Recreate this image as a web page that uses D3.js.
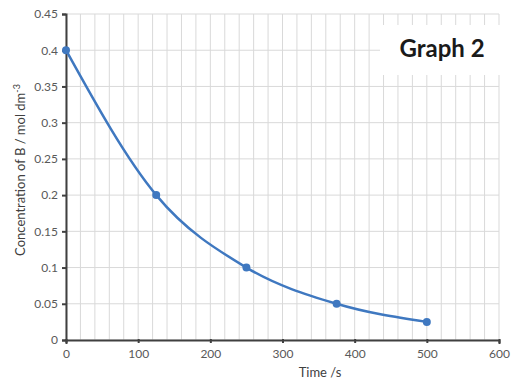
<!DOCTYPE html>
<html>
<head>
<meta charset="utf-8">
<script src="https://cdn.jsdelivr.net/npm/d3@7"></script>
<style>
  body { margin: 0; background: #fff; }
  svg { font-family: Lato, "Open Sans", sans-serif; }
</style>
</head>
<body>
<div id="chart"></div>
<script>
var times = [0, 125, 250, 375, 500];
var conc = [0.4, 0.2, 0.1, 0.05, 0.025];
var xTicks = [0, 100, 200, 300, 400, 500, 600];
var yTicks = [0, 0.05, 0.1, 0.15, 0.2, 0.25, 0.3, 0.35, 0.4, 0.45];
var xMinor = d3.range(0, 601, 20);

var margin = {top: 14, right: 23, bottom: 43, left: 66};
var width = 522 - margin.left - margin.right;
var height = 383 - margin.top - margin.bottom;

var svg = d3.select("#chart").append("svg")
    .attr("width", 522)
    .attr("height", 383);

var g = svg.append("g")
    .attr("transform", "translate(" + margin.left + "," + margin.top + ")");

var x = d3.scaleLinear().domain([0, 600]).range([0, width]);
var y = d3.scaleLinear().domain([0, 0.45]).range([height, 0]);

// grid
g.append("g").selectAll("line")
    .data(xMinor).enter().append("line")
    .attr("x1", function (d) { return x(d); })
    .attr("x2", function (d) { return x(d); })
    .attr("y1", 0).attr("y2", height)
    .attr("stroke", "#d9d9d9").attr("stroke-width", 1);

g.append("g").selectAll("line")
    .data(yTicks).enter().append("line")
    .attr("x1", 0).attr("x2", width)
    .attr("y1", function (d) { return y(d); })
    .attr("y2", function (d) { return y(d); })
    .attr("stroke", "#d9d9d9").attr("stroke-width", 1);

// title box covers grid
g.append("rect")
    .attr("x", 314).attr("y", 11)
    .attr("width", 122).attr("height", 50)
    .attr("fill", "#fff");
g.append("text")
    .attr("x", 376).attr("y", 43)
    .attr("text-anchor", "middle")
    .attr("font-size", 24).attr("font-weight", "bold")
    .attr("fill", "#1a1a1a")
    .text("Graph 2");

// axes
var xAxis = d3.axisBottom(x).tickValues(xTicks).tickSize(4).tickPadding(4);
var yAxis = d3.axisLeft(y).tickValues(yTicks).tickSize(4).tickPadding(4)
    .tickFormat(function (d) { return d3.format("")(+d.toFixed(2)); });

var gx = g.append("g")
    .attr("transform", "translate(0," + height + ")")
    .call(xAxis);
var gy = g.append("g").call(yAxis);

[gx, gy].forEach(function (a) {
    a.select(".domain").attr("stroke", "#404040").attr("stroke-width", 2);
    a.selectAll(".tick line").attr("stroke", "#404040").attr("stroke-width", 2);
    a.selectAll(".tick text").attr("fill", "#595959").attr("font-size", 12)
        .attr("font-family", "Lato, 'Open Sans', sans-serif");
});
gx.selectAll(".tick line").attr("y1", -1).attr("y2", 3);
gx.selectAll(".tick text").attr("dy", "0.85em");

// curve
var pts = times.map(function (t, i) { return [t, conc[i]]; });
var line = d3.line()
    .x(function (d) { return x(d[0]); })
    .y(function (d) { return y(d[1]); })
    .curve(d3.curveMonotoneX);

g.append("path")
    .datum(pts)
    .attr("fill", "none")
    .attr("stroke", "#3f78c0")
    .attr("stroke-width", 2.5)
    .attr("d", line);

g.append("g").selectAll("circle")
    .data(pts).enter().append("circle")
    .attr("cx", function (d) { return x(d[0]); })
    .attr("cy", function (d) { return y(d[1]); })
    .attr("r", 4)
    .attr("fill", "#3f78c0");

// labels
svg.append("text")
    .attr("x", 320).attr("y", 377)
    .attr("text-anchor", "middle")
    .attr("font-size", 13).attr("fill", "#404040")
    .text("Time /s");

var yl = svg.append("text")
    .attr("transform", "translate(25,170) rotate(-90)")
    .attr("text-anchor", "middle")
    .attr("font-size", 13).attr("fill", "#404040");
yl.append("tspan").text("Concentration of B / mol dm");
yl.append("tspan").attr("dy", -5).attr("font-size", 9).text("-3");
</script>
</body>
</html>
